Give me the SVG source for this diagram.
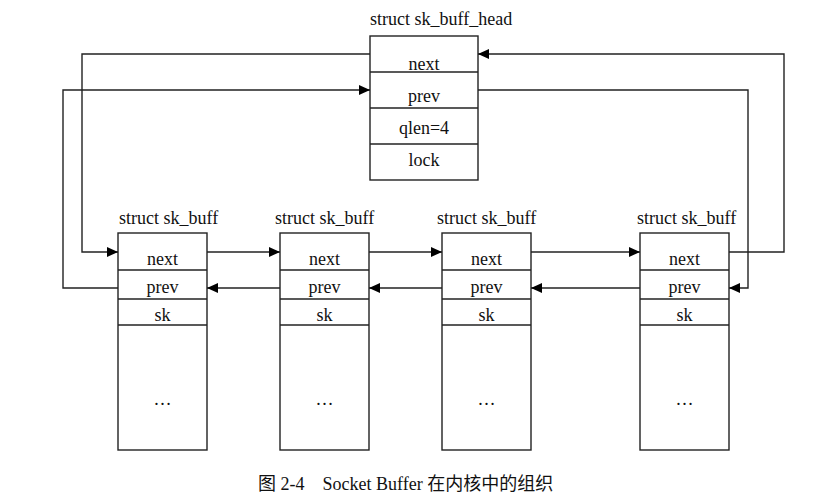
<svg xmlns="http://www.w3.org/2000/svg" width="828" height="496" viewBox="0 0 828 496">
<style>
.box{fill:#fff;stroke:#222;stroke-width:1.4}
.div{stroke:#222;stroke-width:1.4}
.t{font-family:"Liberation Serif","Times New Roman",serif;font-size:18px;fill:#111}
.c{text-anchor:middle}
.ln{fill:none;stroke:#222;stroke-width:1.4}
.cap{font-family:"Liberation Serif","Noto Sans CJK SC",serif;font-size:18px;fill:#111}
</style>
<defs>
<marker id="ah" markerWidth="12" markerHeight="10" refX="11" refY="5" orient="auto" markerUnits="userSpaceOnUse">
<path d="M0,0 L11,5 L0,10 Z" fill="#000"/>
</marker>
</defs>
<rect width="828" height="496" fill="#fff"/>
<g id="head">
<text class="t" x="370" y="25">struct sk_buff_head</text>
<rect class="box" x="370" y="36" width="108" height="144"/>
<line class="div" x1="370" y1="72" x2="478" y2="72"/>
<line class="div" x1="370" y1="108" x2="478" y2="108"/>
<line class="div" x1="370" y1="144" x2="478" y2="144"/>
<text class="t c" x="424" y="70">next</text>
<text class="t c" x="424" y="102">prev</text>
<text class="t c" x="424" y="134">qlen=4</text>
<text class="t c" x="424" y="166">lock</text>
</g>
<g id="skb1">
<text class="t" x="119" y="224">struct sk_buff</text>
<rect class="box" x="118" y="233" width="89" height="217"/>
<line class="div" x1="118" y1="270" x2="207" y2="270"/>
<line class="div" x1="118" y1="299" x2="207" y2="299"/>
<line class="div" x1="118" y1="325" x2="207" y2="325"/>
<text class="t c" x="162.5" y="265">next</text>
<text class="t c" x="162.5" y="293">prev</text>
<text class="t c" x="162.5" y="321">sk</text>
<text class="t c" x="162.5" y="405">…</text>
</g>
<g id="skb2">
<text class="t" x="275" y="224">struct sk_buff</text>
<rect class="box" x="280" y="233" width="89" height="217"/>
<line class="div" x1="280" y1="270" x2="369" y2="270"/>
<line class="div" x1="280" y1="299" x2="369" y2="299"/>
<line class="div" x1="280" y1="325" x2="369" y2="325"/>
<text class="t c" x="324.5" y="265">next</text>
<text class="t c" x="324.5" y="293">prev</text>
<text class="t c" x="324.5" y="321">sk</text>
<text class="t c" x="324.5" y="405">…</text>
</g>
<g id="skb3">
<text class="t" x="437" y="224">struct sk_buff</text>
<rect class="box" x="442" y="233" width="89" height="217"/>
<line class="div" x1="442" y1="270" x2="531" y2="270"/>
<line class="div" x1="442" y1="299" x2="531" y2="299"/>
<line class="div" x1="442" y1="325" x2="531" y2="325"/>
<text class="t c" x="486.5" y="265">next</text>
<text class="t c" x="486.5" y="293">prev</text>
<text class="t c" x="486.5" y="321">sk</text>
<text class="t c" x="486.5" y="405">…</text>
</g>
<g id="skb4">
<text class="t" x="637" y="224">struct sk_buff</text>
<rect class="box" x="640" y="233" width="89" height="217"/>
<line class="div" x1="640" y1="270" x2="729" y2="270"/>
<line class="div" x1="640" y1="299" x2="729" y2="299"/>
<line class="div" x1="640" y1="325" x2="729" y2="325"/>
<text class="t c" x="684.5" y="265">next</text>
<text class="t c" x="684.5" y="293">prev</text>
<text class="t c" x="684.5" y="321">sk</text>
<text class="t c" x="684.5" y="405">…</text>
</g>
<g id="connectors">
<path class="ln" d="M370,54 H82 V252 H118" marker-end="url(#ah)"/>
<path class="ln" d="M118,288 H63 V90 H370" marker-end="url(#ah)"/>
<path class="ln" d="M478,90 H748 V288 H729" marker-end="url(#ah)"/>
<path class="ln" d="M729,252 H784 V54 H478" marker-end="url(#ah)"/>
<path class="ln" d="M207,252 H280" marker-end="url(#ah)"/>
<path class="ln" d="M369,252 H442" marker-end="url(#ah)"/>
<path class="ln" d="M531,252 H640" marker-end="url(#ah)"/>
<path class="ln" d="M280,288 H207" marker-end="url(#ah)"/>
<path class="ln" d="M442,288 H369" marker-end="url(#ah)"/>
<path class="ln" d="M640,288 H531" marker-end="url(#ah)"/>
</g>
<text class="cap" x="258" y="490" xml:space="preserve">图 2-4    Socket Buffer 在内核中的组织</text>
</svg>
